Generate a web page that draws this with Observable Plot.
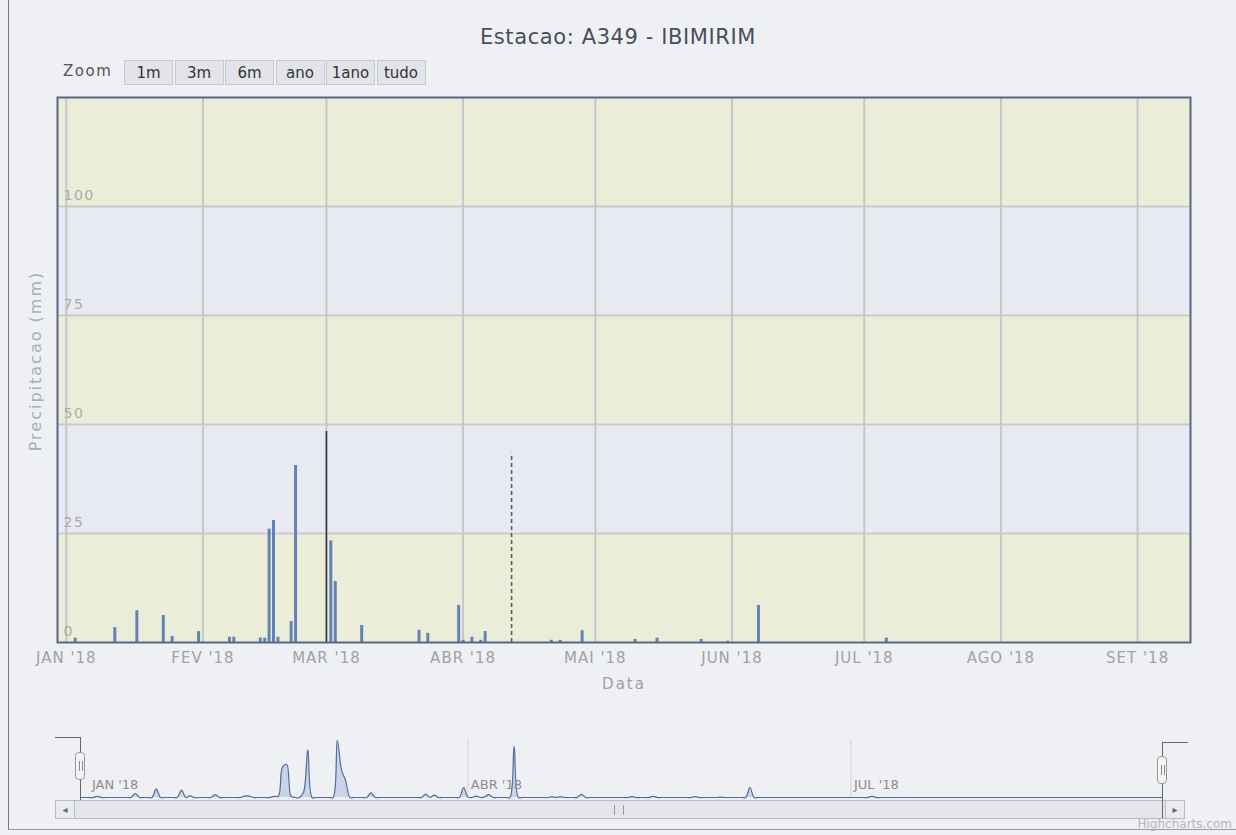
<!DOCTYPE html>
<html><head><meta charset="utf-8">
<script src="https://cdn.jsdelivr.net/npm/d3@7"></script>
<script src="https://cdn.jsdelivr.net/npm/@observablehq/plot@0.6"></script>
<style>
body{margin:0;background:#eef0f4;font-family:"DejaVu Sans",sans-serif;}
#wrap{position:relative;width:1236px;height:835px;overflow:hidden;background:#eef0f4;}
#edge{position:absolute;left:8px;top:0;width:1230px;height:829px;border-left:1px solid #7a7a7a;border-bottom:1px solid #9a9a9a;}
#main{position:absolute;left:0;top:0;}
#nav{position:absolute;left:0;top:700px;}
#title{position:absolute;left:0;width:1236px;top:25px;text-align:center;font-size:21px;letter-spacing:0.6px;color:#4a4d5a;}
#zoomlbl{position:absolute;left:63px;top:62px;font-size:15px;color:#555;letter-spacing:1.5px;}
.btn{position:absolute;top:60px;height:25px;width:49px;border:1px solid #c9cad0;background:#e2e4e9;font-size:15px;color:#333;text-align:center;line-height:24px;box-sizing:border-box;}
#scroll{position:absolute;left:55px;top:800px;width:1130px;height:19px;border:1px solid #b8bcc4;background:#e4e6ea;box-sizing:border-box;}
.sbtn{position:absolute;top:800px;width:20px;height:19px;border:1px solid #b8bcc4;background:#e9ebee;box-sizing:border-box;font-size:10px;color:#666;text-align:center;line-height:17px;}
#grip{position:absolute;left:614px;top:805px;width:8px;height:10px;border-left:1px solid #999;border-right:1px solid #999;}
.handle{position:absolute;width:10px;height:28px;border:1px solid #999;border-radius:4px;background:#f4f4f4;box-sizing:border-box;}
.handle:after{content:"";position:absolute;left:3px;top:8px;width:2px;height:10px;border-left:1px solid #888;border-right:1px solid #888;}
.ol{position:absolute;background:#666;}
#credit{position:absolute;right:4px;top:817px;font-size:12px;color:#b5b7bc;}
#main svg g[aria-label="x-axis tick label"] text{letter-spacing:1px;}
#main .ytitle text{letter-spacing:2px;}
#main .ylab text{letter-spacing:1.5px;}
</style></head><body><div id="wrap">
<div id="edge"></div>
<div id="main"></div>
<div id="nav"></div>
<div id="title">Estacao: A349 - IBIMIRIM</div>
<div id="zoomlbl">Zoom</div>
<div id="buttons"></div>
<div id="scroll"></div>
<div class="sbtn" style="left:55px">&#9666;</div>
<div class="sbtn" style="left:1165px">&#9656;</div>
<div id="grip"></div>
<div class="ol" style="left:55px;top:737px;width:25px;height:1px"></div>
<div class="ol" style="left:80px;top:737px;width:1px;height:63px"></div>
<div class="ol" style="left:1162px;top:742px;width:26px;height:1px"></div>
<div class="ol" style="left:1162px;top:742px;width:1px;height:76px"></div>
<div class="handle" style="left:75px;top:752px"></div>
<div class="handle" style="left:1157px;top:756px"></div>
<div id="credit">Highcharts.com</div>
</div>
<script>
// ---- data ----
const dates = ["2018-01-03","2018-01-12","2018-01-17","2018-01-23","2018-01-25","2018-01-31",
  "2018-02-07","2018-02-08","2018-02-14","2018-02-15","2018-02-16","2018-02-17","2018-02-18","2018-02-21","2018-02-22",
  "2018-03-01","2018-03-02","2018-03-03","2018-03-09","2018-03-22","2018-03-24","2018-03-31",
  "2018-04-01","2018-04-03","2018-04-05","2018-04-06","2018-04-12","2018-04-21","2018-04-23","2018-04-28",
  "2018-05-10","2018-05-15","2018-05-25","2018-05-31","2018-06-07","2018-07-06"];
const values = [1.0,3.4,7.3,6.2,1.4,2.5,
  1.2,1.2,1.0,1.0,26.0,28.0,1.2,4.8,40.6,
  48.4,23.3,14.0,3.9,2.8,2.1,8.5,
  0.5,1.2,0.5,2.5,43.4,0.5,0.5,2.7,
  0.7,1.0,0.7,0.3,8.5,1.0];
const monthNames = ["JAN","FEV","MAR","ABR","MAI","JUN","JUL","AGO","SET","OUT","NOV","DEZ"];
const yTicks = [0,25,50,75,100];
const bandEdges = [0,25,50,75,100,125];
const xStart = "2017-12-30", xEnd = "2018-09-13";
const zoomButtons = ["1m","3m","6m","ano","1ano","tudo"];

// ---- build ----
const parse = d3.utcParse("%Y-%m-%d");
const rows = dates.map((d,i)=>({date:parse(d), value:values[i]}));
const domain = [parse(xStart), parse(xEnd)];
const monthTicks = d3.utcMonth.range(parse("2018-01-01"), domain[1]);
const bands = d3.pairs(bandEdges).map(([a,b],i)=>({y1:a,y2:b,i}));
const fmt = d => `${monthNames[d.getUTCMonth()]} '${String(d.getUTCFullYear()).slice(2)}`;
const vmax = d3.max(values);
const normal = rows.filter(d=>d.value<=42);
const peak = rows.filter(d=>d.value===vmax);
const dashed = rows.filter(d=>d.value>42 && d.value!==vmax);

const btns = document.getElementById("buttons");
zoomButtons.forEach((t,i)=>{const b=document.createElement("div");b.className="btn";b.style.left=(124+i*50.5)+"px";b.textContent=t;btns.appendChild(b);});

const main = Plot.plot({
  width:1236, height:700,
  marginLeft:57, marginRight:46, marginTop:97, marginBottom:58,
  style:{background:"transparent", fontFamily:"DejaVu Sans, sans-serif", fontSize:"15px", color:"#a2a2a2"},
  x:{type:"utc", domain, ticks:monthTicks, tickFormat:fmt, tickSize:0, tickPadding:10, label:null},
  y:{domain:[0,125], axis:null},
  marks:[
    Plot.rect(bands,{y1:"y1", y2:"y2", fill:d=>d.i%2===0?"#ecedd9":"#e7eaf0"}),
    Plot.ruleY(yTicks.slice(1),{stroke:"#cacaca", strokeWidth:2}),
    Plot.ruleX(monthTicks,{stroke:"#c6c7ca", strokeWidth:2}),
    Plot.ruleX(normal,{x:"date", y1:0, y2:"value", stroke:"#6183b6", strokeWidth:3}),
    Plot.ruleX(peak,{x:"date", y1:0, y2:"value", stroke:"#2f3440", strokeWidth:1.6}),
    Plot.ruleX(dashed,{x:"date", y1:0, y2:"value", stroke:"#555a66", strokeWidth:1.6, strokeDasharray:"4,3"}),
    Plot.text(yTicks,{y:d=>d, frameAnchor:"left", text:d=>String(d), dx:6, dy:-11, textAnchor:"start", fill:"#ababab", fontSize:14, className:"ylab"}),
    Plot.text(["Precipitacao (mm)"],{frameAnchor:"left", textAnchor:"middle", rotate:-90, dx:-22, dy:-9, fill:"#a6adbb", fontSize:16, className:"ytitle"}),
    Plot.text(["Data"],{frameAnchor:"bottom", dy:46, fill:"#a0a0a0", fontSize:15, className:"ytitle"}),
    Plot.frame({stroke:"#5a6680", strokeWidth:2})
  ]
});
document.getElementById("main").appendChild(main);

const lookup = new Map(rows.map(d=>[+d.date, d.value]));
const full = d3.utcDay.range(domain[0], d3.utcDay.offset(domain[1],1)).map(d=>({date:d, value:lookup.get(+d) ?? 0}));
const quarterTicks = d3.utcMonth.every(3).range(parse("2018-01-01"), domain[1]);
const nav = Plot.plot({
  width:1236, height:135,
  marginLeft:80, marginRight:74, marginTop:40, marginBottom:38,
  style:{background:"transparent", fontFamily:"DejaVu Sans, sans-serif"},
  x:{type:"utc", domain, axis:null},
  y:{domain:[0,vmax], axis:null},
  marks:[
    Plot.ruleX(quarterTicks.slice(1),{stroke:"#cfd1d5"}),
    Plot.areaY(full,{x:"date", y:"value", curve:"catmull-rom", fill:"#c2cfe6", fillOpacity:0.85}),
    Plot.lineY(full,{x:"date", y:"value", curve:"catmull-rom", stroke:"#4f6d9e", strokeWidth:1.2}),
    Plot.text(quarterTicks,{x:d=>d, frameAnchor:"bottom", dy:-9, dx:3, text:fmt, textAnchor:"start", fill:"#8c8c8c", fontSize:13})
  ]
});
document.getElementById("nav").appendChild(nav);
</script>
</body></html>
